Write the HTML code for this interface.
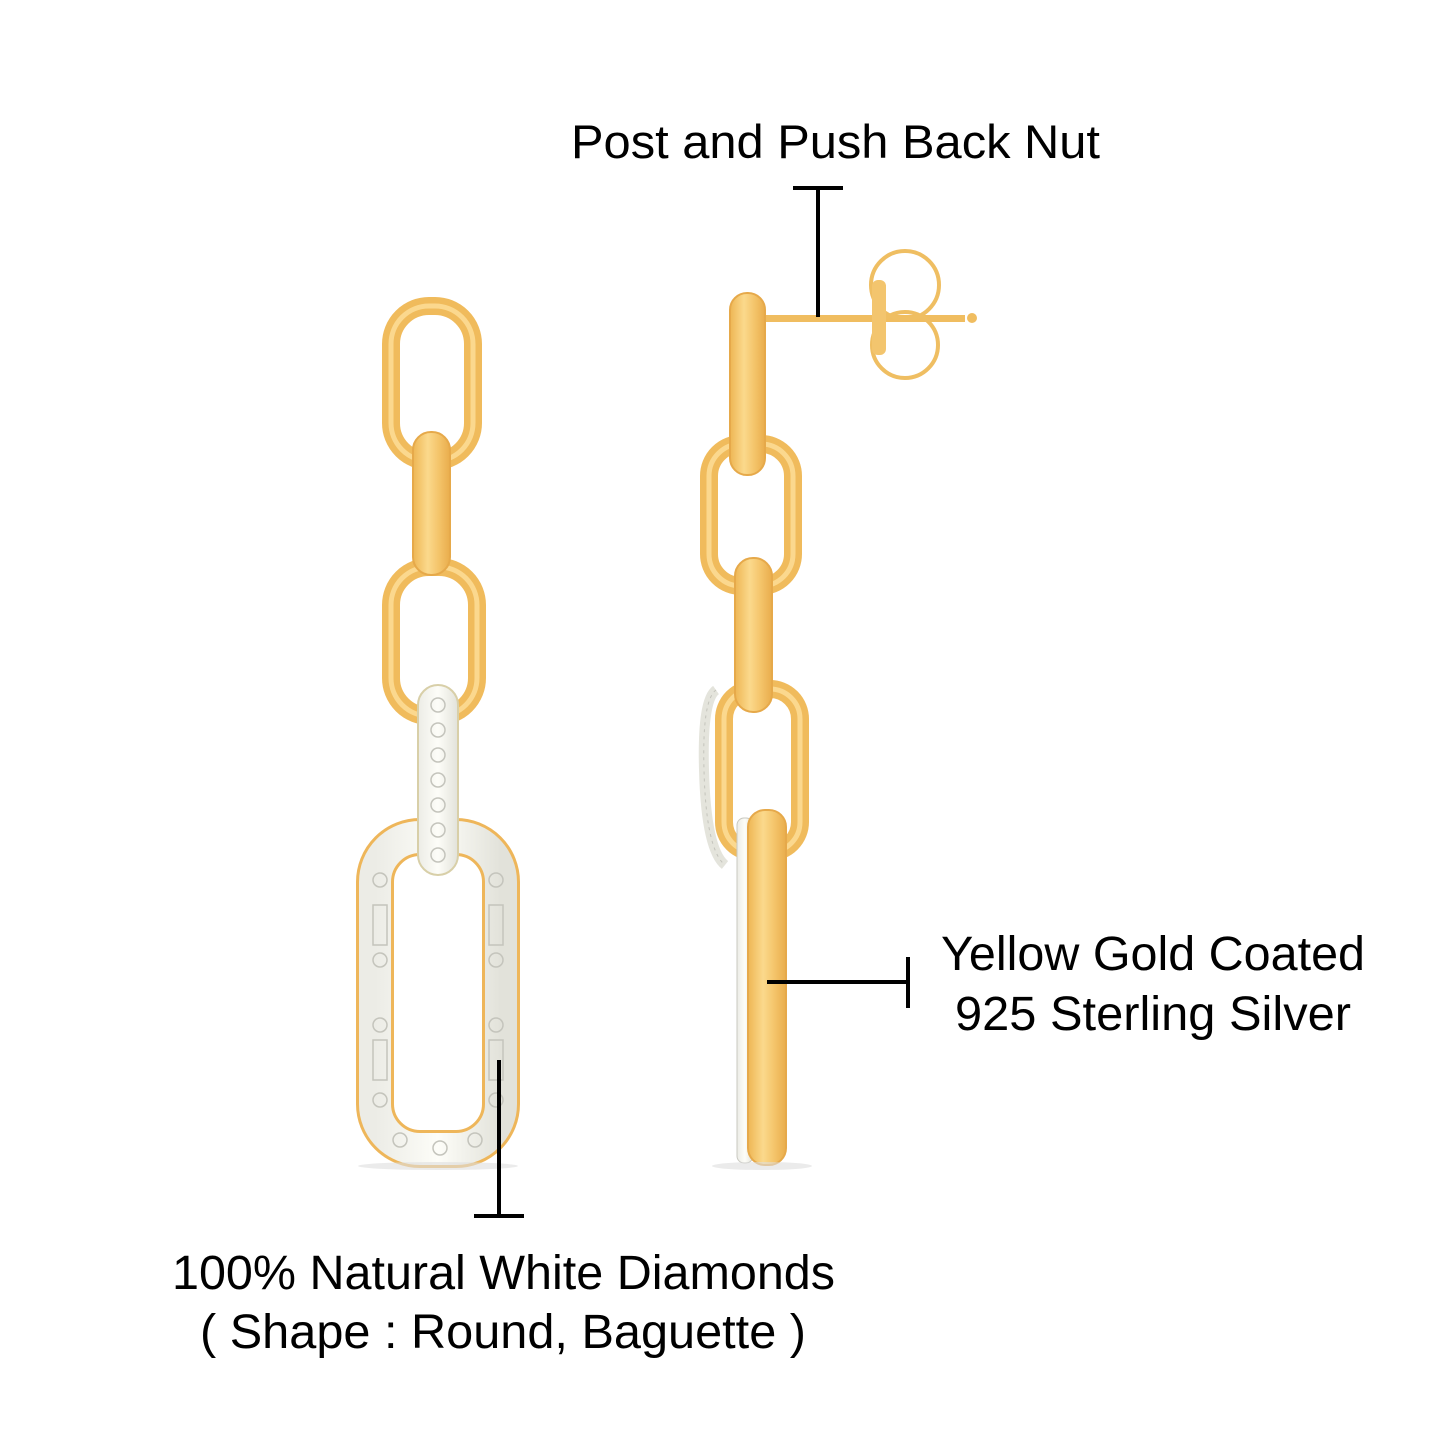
<!DOCTYPE html>
<html><head><meta charset="utf-8"><style>
html,body{margin:0;padding:0;background:#fff;}
svg{display:block;}
text{font-family:"Liberation Sans",Arial,sans-serif;fill:#000;}
</style></head><body>
<svg width="1445" height="1445" viewBox="0 0 1445 1445" xmlns="http://www.w3.org/2000/svg">
<defs>
<linearGradient id="g" x1="0" x2="1" y1="0" y2="0">
<stop offset="0" stop-color="#eeb654"/><stop offset="0.4" stop-color="#fbd98c"/><stop offset="0.7" stop-color="#f4c46a"/><stop offset="1" stop-color="#e9ad4c"/>
</linearGradient>
<linearGradient id="d" x1="0" x2="1"><stop offset="0" stop-color="#ececE6"/><stop offset="0.5" stop-color="#fdfdf8"/><stop offset="1" stop-color="#e2e2da"/></linearGradient>
</defs>
<!-- Left earring -->
<rect x="391" y="306" width="82" height="155" rx="38" fill="none" stroke="#f0bb5c" stroke-width="18"/>
<rect x="391" y="306" width="82" height="155" rx="38" fill="none" stroke="#fbd88e" stroke-width="5"/>
<rect x="391" y="567" width="86" height="149" rx="38" fill="none" stroke="#f0bb5c" stroke-width="18"/>
<rect x="391" y="567" width="86" height="149" rx="38" fill="none" stroke="#fbd88e" stroke-width="5"/>
<rect x="413" y="432" width="37" height="143" rx="18" fill="url(#g)" stroke="#e6a94a" stroke-width="2"/>
<rect x="375" y="837" width="126" height="312" rx="45" fill="none" stroke="#eeb65a" stroke-width="38"/>
<rect x="375" y="837" width="126" height="312" rx="45" fill="none" stroke="url(#d)" stroke-width="32"/>
<g fill="none" stroke="#c4c4bc" stroke-width="1.5">
<circle cx="380" cy="880" r="7"/><circle cx="380" cy="960" r="7"/><circle cx="380" cy="1025" r="7"/><circle cx="380" cy="1100" r="7"/>
<circle cx="496" cy="880" r="7"/><circle cx="496" cy="960" r="7"/><circle cx="496" cy="1025" r="7"/><circle cx="496" cy="1100" r="7"/>
<circle cx="400" cy="1140" r="7"/><circle cx="440" cy="1148" r="7"/><circle cx="475" cy="1140" r="7"/>
<rect x="373" y="905" width="14" height="40" /><rect x="373" y="1040" width="14" height="40"/><rect x="489" y="905" width="14" height="40"/><rect x="489" y="1040" width="14" height="40"/>
</g>
<rect x="418" y="685" width="40" height="190" rx="20" fill="url(#d)" stroke="#d8cfa8" stroke-width="2"/>
<g fill="none" stroke="#c4c4bc" stroke-width="1.5">
<circle cx="438" cy="705" r="7"/><circle cx="438" cy="730" r="7"/><circle cx="438" cy="755" r="7"/><circle cx="438" cy="780" r="7"/><circle cx="438" cy="805" r="7"/><circle cx="438" cy="830" r="7"/><circle cx="438" cy="855" r="7"/>
</g>
<!-- Right earring -->
<rect x="765" y="315" width="200" height="7" fill="#f0bd60"/>
<ellipse cx="972" cy="318" rx="5" ry="5" fill="#f0bd60"/>
<g fill="none" stroke="#efbe62" stroke-width="4">
<circle cx="905" cy="285" r="34"/><circle cx="905" cy="345" r="33"/>
</g>
<rect x="872" y="280" width="14" height="75" rx="6" fill="#f3c56e"/>
<rect x="709" y="444" width="84" height="142" rx="32" fill="none" stroke="#f0bb5c" stroke-width="18"/>
<rect x="709" y="444" width="84" height="142" rx="32" fill="none" stroke="#fbd88e" stroke-width="5"/>
<rect x="730" y="293" width="35" height="182" rx="17" fill="url(#g)" stroke="#e6a94a" stroke-width="2"/>
<path d="M716 690 Q702 700 704 770 Q706 850 725 865" fill="none" stroke="#e4e4dc" stroke-width="10"/>
<path d="M716 690 Q702 700 704 770 Q706 850 725 865" fill="none" stroke="#c4c4bc" stroke-width="1" stroke-dasharray="3 4"/>
<rect x="724" y="689" width="76" height="163" rx="30" fill="none" stroke="#f0bb5c" stroke-width="18"/>
<rect x="724" y="689" width="76" height="163" rx="30" fill="none" stroke="#fbd88e" stroke-width="5"/>
<rect x="735" y="558" width="37" height="154" rx="18" fill="url(#g)" stroke="#e6a94a" stroke-width="2"/>
<rect x="737" y="818" width="16" height="345" rx="7" fill="url(#d)" stroke="#c8c8c0" stroke-width="1"/>
<rect x="748" y="810" width="38" height="355" rx="17" fill="url(#g)" stroke="#e6a94a" stroke-width="2"/>
<ellipse cx="438" cy="1166" rx="80" ry="4" fill="#ddd" opacity="0.6"/>
<ellipse cx="762" cy="1166" rx="50" ry="4" fill="#ddd" opacity="0.6"/>
<!-- Callouts -->
<g stroke="#000" stroke-width="4" fill="none">
<line x1="793" y1="188" x2="843" y2="188"/><line x1="818" y1="188" x2="818" y2="317"/>
<line x1="767" y1="982" x2="908" y2="982"/><line x1="908" y1="957" x2="908" y2="1008"/>
<line x1="499" y1="1060" x2="499" y2="1216"/><line x1="474" y1="1216" x2="524" y2="1216"/>
</g>
<text x="571" y="158" font-size="47" textLength="529" lengthAdjust="spacingAndGlyphs">Post and Push Back Nut</text>
<text x="941" y="970" font-size="48" textLength="424" lengthAdjust="spacingAndGlyphs">Yellow Gold Coated</text>
<text x="955" y="1030" font-size="48" textLength="396" lengthAdjust="spacingAndGlyphs">925 Sterling Silver</text>
<text x="172" y="1289" font-size="48" textLength="663" lengthAdjust="spacingAndGlyphs">100% Natural White Diamonds</text>
<text x="200" y="1348" font-size="48" textLength="606" lengthAdjust="spacingAndGlyphs">( Shape : Round, Baguette )</text>
</svg>
</body></html>
